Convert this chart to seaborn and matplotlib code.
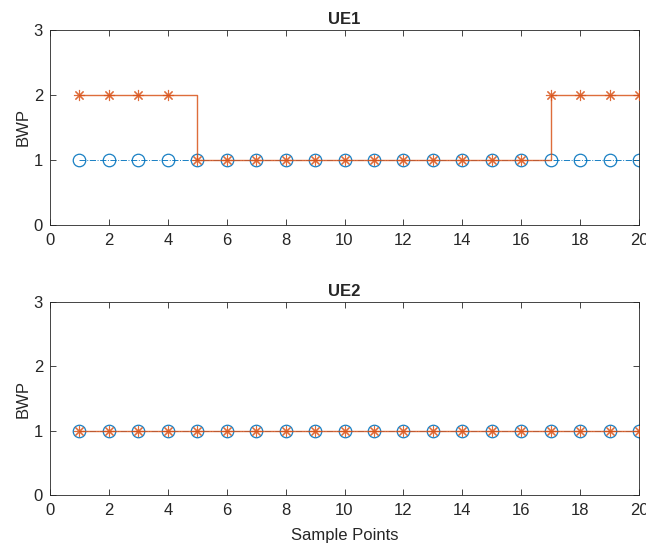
import matplotlib
matplotlib.use("Agg")
import matplotlib.pyplot as plt
import seaborn as sns
import numpy as np

sample_points = list(range(1, 21))
ue1_series_a = [1] * 20
ue1_series_b = [2, 2, 2, 2, 1, 1, 1, 1, 1, 1, 1, 1, 1, 1, 1, 1, 2, 2, 2, 2]
ue2_series_a = [1] * 20
ue2_series_b = [1] * 20
titles = ["UE1", "UE2"]

sns.set_style("white")
plt.rcParams['font.family'] = ['Liberation Sans', 'DejaVu Sans']

blue = "#0072BD"
orange = "#D95319"

fig = plt.figure(figsize=(6.46, 5.48), dpi=100)
ax1 = fig.add_axes([50/646, 1-225/548, (639-50)/646, (225-30)/548])
ax2 = fig.add_axes([50/646, 1-495/548, (639-50)/646, (495-302)/548])

for ax, a, b, t in [(ax1, ue1_series_a, ue1_series_b, titles[0]),
                    (ax2, ue2_series_a, ue2_series_b, titles[1])]:
    sns.lineplot(x=sample_points, y=a, ax=ax, color=blue, linestyle='-.',
                 linewidth=0.7, marker='o', markersize=9, markerfacecolor='none',
                 markeredgecolor=blue, markeredgewidth=0.9, alpha=0.9, zorder=2)
    sns.lineplot(x=sample_points, y=b, ax=ax, color=orange, linestyle='-',
                 linewidth=1.0, marker=(8, 2, 0), markersize=8,
                 markeredgecolor=orange, markeredgewidth=0.8, drawstyle='steps-post',
                 alpha=0.85, zorder=3)
    ax.set_xlim(0, 20)
    ax.set_ylim(0, 3)
    ax.set_xticks(range(0, 21, 2))
    ax.set_yticks([0, 1, 2, 3])
    ax.set_title(t, fontsize=12, fontweight='bold', pad=4)
    ax.set_ylabel("BWP", fontsize=12, labelpad=2)
    ax.tick_params(direction='in', length=4, width=0.6, color='#262626',
                   labelsize=12, labelcolor='#262626', top=True, right=True,
                   bottom=True, left=True)
    ax.tick_params(axis='x', pad=6)
    ax.tick_params(axis='y', pad=5)
    for s in ax.spines.values():
        s.set_visible(True)
        s.set_color('#262626')
        s.set_linewidth(0.6)

ax2.set_xlabel("Sample Points", fontsize=12, labelpad=7)

fig.savefig("out.png", dpi=100)
